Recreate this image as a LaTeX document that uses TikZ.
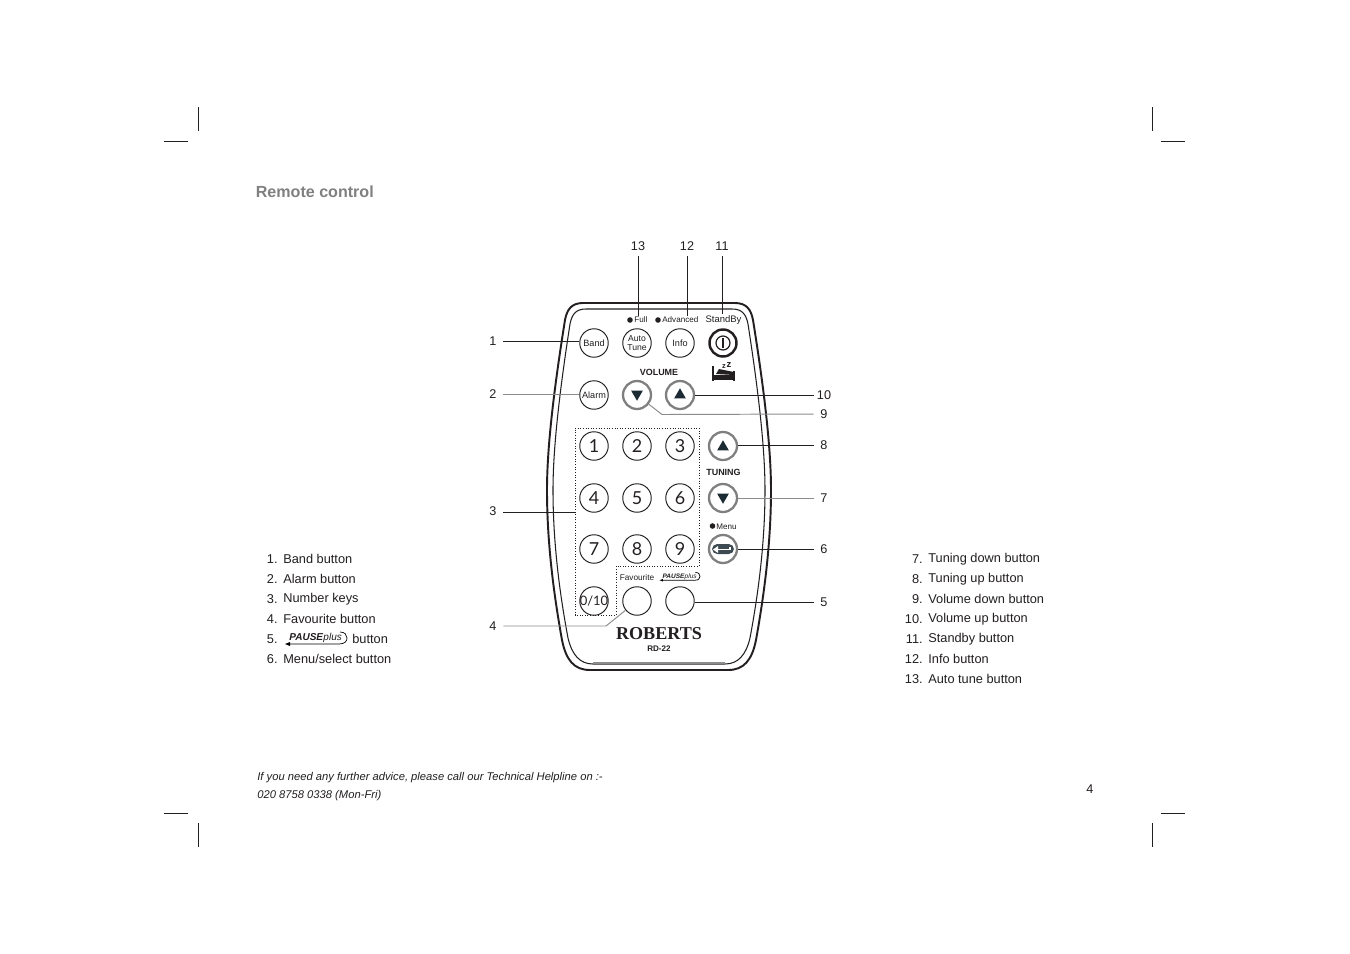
\documentclass[tikz,border=0pt]{standalone}
\usepackage{fontspec}
\setmainfont{Liberation Sans}
\newfontfamily\logofont{Liberation Serif}
\newfontfamily\keyfont{Lato}
\usetikzlibrary{shapes.geometric, positioning, calc}
\definecolor{titlegrey}{HTML}{808080}
\definecolor{rimgrey}{HTML}{7F7F7F}
\definecolor{leadgrey}{HTML}{8C8C8C}
\definecolor{textmain}{HTML}{231F20}
\definecolor{arrowink}{HTML}{1B2A33}
\tikzstyle{plainkey} = [circle, draw=textmain, line width=0.55pt, minimum size=0.57cm, inner sep=0pt, font=\fontsize{5.2}{5.6}\selectfont, align=center]
\tikzstyle{numkey} = [plainkey, font=\fontsize{10.2}{12}\selectfont\keyfont]
\tikzstyle{rimkey} = [circle, draw=rimgrey, line width=1.3pt, minimum size=0.56cm, inner sep=0pt]
\tikzstyle{tipkey} = [regular polygon, regular polygon sides=3, fill=arrowink, minimum size=0.27cm, inner sep=0pt]
\tikzstyle{numlabel} = [font=\fontsize{7.2}{9}\selectfont, minimum width=0.4cm, minimum height=0.4cm, inner sep=0pt]
\tikzstyle{listtext} = [anchor=west, inner sep=0pt, font=\fontsize{7.27}{9}\selectfont]
\tikzstyle{listnum} = [anchor=east, inner sep=0pt, font=\fontsize{7.27}{9}\selectfont]
\tikzstyle{tinytext} = [inner sep=0pt, font=\fontsize{4.6}{5}\selectfont]
\tikzstyle{capstext} = [inner sep=0pt, font=\fontsize{5.1}{5}\selectfont\bfseries]
\tikzstyle{blacklead} = [line width=0.55pt, color=textmain]
\tikzstyle{greylead} = [line width=0.55pt, color=leadgrey]
\tikzstyle{cropmark} = [line width=0.5pt, color=textmain]
\newcommand{\pauselogo}[3]{%
  \begin{scope}[shift={(#1,#2)}, scale=#3, transform shape]
    \node[inner sep=0pt, anchor=west, font=\fontsize{5.7}{7}\selectfont\bfseries\itshape] (pauseword) at (2,-1) {PAUSE\kern0.2pt{\mdseries plus}};
    \draw[line width=0.4pt] (0,5) -- (52,5) .. controls (58,5) and (60,2) .. (60,-1) .. controls (60,-4) and (58,-7) .. (53,-7);
    \fill (-2,5) -- (3,3) -- (3,7) -- cycle;
  \end{scope}}

\begin{document}
\begin{tikzpicture}[x=0.02cm, y=-0.02cm, every node/.style={text=textmain}]
    \useasboundingbox (0,0) rectangle (1350,954);
    \fill[white] (0,0) rectangle (1350,954);

    % crop marks
    \draw[cropmark] (198,107) -- (198,131);
    \draw[cropmark] (164,141) -- (188,141);
    \draw[cropmark] (1152,107) -- (1152,131);
    \draw[cropmark] (1161,141) -- (1185,141);
    \draw[cropmark] (198,823) -- (198,847);
    \draw[cropmark] (164,813) -- (188,813);
    \draw[cropmark] (1152,823) -- (1152,847);
    \draw[cropmark] (1161,813) -- (1185,813);

    \node[anchor=west, inner sep=0pt, text=titlegrey, font=\fontsize{9.15}{11}\selectfont\bfseries] (title) at (255.5,192) {Remote control};

    % remote body
    \draw[line width=1.1pt, color=textmain] (583,303) -- (735,303) .. controls (746,303) and (751,309) .. (753,320) .. controls (765,395) and (771,450) .. (771,490) .. controls (771,540) and (765,590) .. (756,640) .. controls (752,660) and (744,670) .. (728,670) -- (590,670) .. controls (574,670) and (566,660) .. (562,640) .. controls (553,590) and (547,540) .. (547,490) .. controls (547,450) and (553,395) .. (565,320) .. controls (567,309) and (572,303) .. (583,303) -- cycle;
    \draw[line width=0.6pt, color=textmain] (586,309) -- (732,309) .. controls (742,309) and (746,314) .. (748,324) .. controls (759,395) and (765,450) .. (765,490) .. controls (765,540) and (759,590) .. (750,638) .. controls (746,655) and (738,664) .. (725,664) -- (593,664) .. controls (580,664) and (572,655) .. (568,638) .. controls (559,590) and (553,540) .. (553,490) .. controls (553,450) and (559,395) .. (570,324) .. controls (572,314) and (576,309) .. (586,309) -- cycle;
    \draw[line width=0.8pt, color=leadgrey] (593,663) -- (725,663);

    % number pad outline
    \draw[line width=0.5pt, densely dotted, color=textmain] (575,428) -- (699,428) -- (699,566) -- (616,566) -- (616,615) -- (575,615) -- cycle;

    % top row
    \node[plainkey] (band) at (594,343) {Band};
    \node[plainkey, font=\fontsize{4.9}{5.2}\selectfont] (autotune) at (637,343) {Auto\\Tune};
    \node[plainkey] (info) at (680,343) {Info};
    \node[circle, draw=textmain, line width=1.4pt, minimum size=0.54cm, inner sep=0pt] (standby) at (723,343) {};
    \draw[line width=0.7pt, color=textmain] (standby.center) circle (7);
    \draw[line width=0.9pt, color=textmain] ($(standby.center)+(0,-5)$) -- ($(standby.center)+(0,5)$);
    \fill[textmain] (630,320) circle (2.8);
    \node[tinytext, anchor=west] (fulltext) at (634,320) {Full};
    \fill[textmain] (658,320) circle (2.8);
    \node[tinytext, anchor=west] (advancedtext) at (662,320) {Advanced};
    \node[inner sep=0pt, font=\fontsize{5.4}{6}\selectfont] (standbytext) at (723.5,320) {StandBy};
    \coordinate (fulltop) at (638,316);
    \coordinate (advancedtop) at (687,316);
    \coordinate (standbytop) at (722,314);

    % volume row
    \node[capstext] (volumetext) at (659,372) {VOLUME};
    \node[plainkey] (alarm) at (594,395) {Alarm};
    \node[rimkey] (voldown) at (637,395) {};
    \node[tipkey, shape border rotate=180] at (637,394) {};
    \node[rimkey] (volup) at (680,395) {};
    \node[tipkey] at (680,395) {};

    % sleep icon
    \draw[line width=1.2pt, color=textmain] (713,366) -- (713,381);
    \draw[line width=1.2pt, color=textmain] (734,371) -- (734,381);
    \fill[textmain] (713,375) -- (734,375) -- (734,380) -- (713,380) -- cycle;
    \fill[textmain] (716,374) -- (719,369) -- (734,372) -- (734,375) -- cycle;
    \node[inner sep=0pt, font=\fontsize{4.2}{5}\selectfont\bfseries] (sleepz) at (724,367) {z};
    \node[inner sep=0pt, font=\fontsize{5.4}{6}\selectfont\bfseries] (sleepzz) at (729,365) {z};

    % number keys
    \node[numkey] (key1) at (594,446) {1};
    \node[numkey] (key2) at (637,446) {2};
    \node[numkey] (key3) at (680,446) {3};
    \node[numkey] (key4) at (594,498) {4};
    \node[numkey] (key5) at (637,498) {5};
    \node[numkey] (key6) at (680,498) {6};
    \node[numkey] (key7) at (594,549) {7};
    \node[numkey] (key8) at (637,549) {8};
    \node[numkey] (key9) at (680,549) {9};
    \node[numkey, inner sep=-3pt, font=\fontsize{7.4}{9}\selectfont\keyfont] (key0) at (594,601) {0/10};
    \node[plainkey] (favourite) at (637,601) {};
    \node[plainkey] (pausekey) at (680,601) {};
    \node[inner sep=0pt, font=\fontsize{4.7}{5}\selectfont] (favouritetext) at (637,577.5) {Favourite};
    \pauselogo{661}{577}{0.65}
    \coordinate (padedge) at (576,512);

    % tuning and menu
    \node[rimkey] (tuneup) at (723,446) {};
    \node[tipkey] at (723,447) {};
    \node[capstext] (tuningtext) at (723.5,472) {TUNING};
    \node[rimkey] (tunedown) at (723,498) {};
    \node[tipkey, shape border rotate=180] at (723,497) {};
    \fill[textmain] (712.5,526) circle (2.8);
    \node[tinytext, anchor=west] (menutext) at (716,526.5) {Menu};
    \node[rimkey] (menukey) at (723,549) {};
    \fill[arrowink!85!white, rounded corners=3pt] (712,544) rectangle (734,554);
    \draw[white, line width=0.8pt] (730,547) -- (730,549.5) -- (716,549.5);
    \fill[white] (713,549.5) -- (718,546) -- (718,553) -- cycle;

    % logo
    \node[inner sep=0pt, font=\fontsize{10.3}{12}\selectfont\logofont\bfseries] (roberts) at (659,633.5) {ROBERTS};
    \node[inner sep=0pt, font=\fontsize{4.6}{5}\selectfont\bfseries] (modeltext) at (659,649) {RD-22};

    % number labels
    \node[numlabel] (n1) at (493,341) {1};
    \node[numlabel] (n2) at (493,394) {2};
    \node[numlabel] (n3) at (493,511) {3};
    \node[numlabel] (n4) at (493,626) {4};
    \node[numlabel] (n5) at (824,602) {5};
    \node[numlabel] (n6) at (824,549) {6};
    \node[numlabel] (n7) at (824,498) {7};
    \node[numlabel] (n8) at (824,445) {8};
    \node[numlabel] (n9) at (824,414) {9};
    \node[numlabel] (n10) at (824,395) {10};
    \node[numlabel] (n11) at (722,246) {11};
    \node[numlabel] (n12) at (687,246) {12};
    \node[numlabel] (n13) at (638,246) {13};

    % leaders
    \draw[blacklead] (n1) -- (band.west |- n1);
    \draw[greylead] (n2) -- (alarm.west |- n2);
    \draw[blacklead] (n3.east |- padedge) -- (padedge);
    \draw[greylead] (n4) -- (606,626) -- (favourite);
    \draw[blacklead] (n5) -- (pausekey.east |- n5);
    \draw[blacklead] (n6) -- (menukey.east |- n6);
    \draw[greylead] (n7) -- (tunedown.east |- n7);
    \draw[blacklead] (n8) -- (tuneup.east |- n8);
    \draw[greylead] (n9) -- (662,414.5) -- (voldown);
    \draw[blacklead] (n10) -- (volup.east |- n10);
    \draw[blacklead] (n11) -- (standbytop);
    \draw[blacklead] (n12) -- (advancedtop);
    \draw[blacklead] (n13) -- (fulltop);

    % left list
    \node[listnum] (l1) at (278,559) {1.};
    \node[listtext] (t1) at (283,559) {Band button};
    \node[listnum] (l2) at (278,579) {2.};
    \node[listtext] (t2) at (283,579) {Alarm button};
    \node[listnum] (l3) at (278,599) {3.};
    \node[listtext] (t3) at (283,599) {Number keys};
    \node[listnum] (l4) at (278,619) {4.};
    \node[listtext] (t4) at (283,619) {Favourite button};
    \node[listnum] (l5) at (278,639) {5.};
    \pauselogo{287}{639}{1}
    \node[listtext] (t5) at (352,639) {button};
    \node[listnum] (l6) at (278,659) {6.};
    \node[listtext] (t6) at (283,659) {Menu/select button};

    % right list
    \node[listnum] (l7) at (923,559) {7.};
    \node[listtext] (t7) at (928,559) {Tuning down button};
    \node[listnum] (l8) at (923,579) {8.};
    \node[listtext] (t8) at (928,579) {Tuning up button};
    \node[listnum] (l9) at (923,599) {9.};
    \node[listtext] (t9) at (928,599) {Volume down button};
    \node[listnum] (l10) at (923,619) {10.};
    \node[listtext] (t10) at (928,619) {Volume up button};
    \node[listnum] (l11) at (923,639) {11.};
    \node[listtext] (t11) at (928,639) {Standby button};
    \node[listnum] (l12) at (923,659) {12.};
    \node[listtext] (t12) at (928,659) {Info button};
    \node[listnum] (l13) at (923,679) {13.};
    \node[listtext] (t13) at (928,679) {Auto tune button};

    % footer
    \node[anchor=west, inner sep=0pt, font=\fontsize{6.38}{8}\selectfont\itshape] (help1) at (257,777.5) {If you need any further advice, please call our Technical Helpline on :-};
    \node[anchor=west, inner sep=0pt, font=\fontsize{6.38}{8}\selectfont\itshape] (help2) at (257,795.5) {020 8758 0338 (Mon-Fri)};
    \node[inner sep=0pt, font=\fontsize{7.2}{9}\selectfont] (pagenum) at (1090,789) {4};
\end{tikzpicture}
\end{document}
